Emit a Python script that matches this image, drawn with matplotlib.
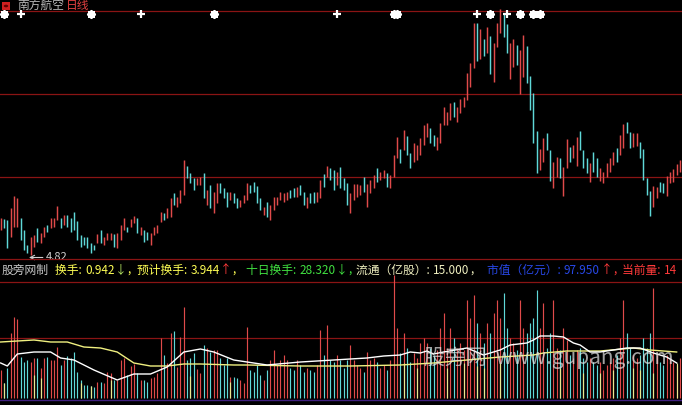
import matplotlib
matplotlib.use("Agg")
import matplotlib.pyplot as plt
import numpy as np
from matplotlib.patches import Rectangle, Circle

plt.rcParams['font.family'] = ['Noto Sans CJK SC', 'DejaVu Sans']

# ---------------- data ----------------
high = [5.56,5.54,5.52,5.76,6.00,5.96,5.56,5.32,5.02,5.18,5.22,5.36,5.26,5.38,5.42,5.56,5.56,5.80,5.56,5.62,
        5.62,5.56,5.68,5.50,5.22,5.18,5.18,5.06,5.02,5.24,5.32,5.18,5.26,5.26,5.24,5.26,5.42,5.56,5.38,5.54,
        5.60,5.56,5.38,5.32,5.28,5.26,5.38,5.42,5.68,5.66,5.76,5.96,6.06,5.98,6.12,6.72,6.60,6.46,6.36,6.36,
        6.38,6.46,6.12,6.22,6.08,6.26,6.26,6.16,6.08,6.08,6.06,5.96,5.92,6.02,6.26,6.22,6.28,6.20,5.96,5.78,
        5.88,5.82,5.98,5.98,6.08,6.06,6.08,6.12,6.16,6.18,6.22,6.08,5.98,6.06,6.08,6.08,6.32,6.44,6.60,6.56,
        6.52,6.48,6.58,6.36,6.26,6.06,6.24,6.24,6.22,6.38,6.24,6.32,6.42,6.56,6.48,6.52,6.46,6.42,6.82,7.18,
        6.94,7.32,7.20,6.86,7.06,7.02,7.16,7.42,7.46,7.36,7.22,7.18,7.46,7.78,7.68,7.86,7.88,7.78,7.94,7.98,
        8.46,8.66,9.46,9.46,9.34,9.14,9.38,9.20,9.06,9.46,9.74,9.64,9.44,9.06,9.14,9.02,8.92,9.22,9.00,8.40,
        8.06,7.30,6.94,7.16,7.26,6.92,6.68,6.78,6.76,6.58,7.14,6.98,7.02,7.18,7.30,6.92,6.76,6.66,6.88,6.76,
        6.56,6.48,6.66,6.76,6.88,6.96,7.22,7.44,7.48,7.28,7.26,7.26,7.08,6.94,6.36,6.10,6.20,6.18,6.28,6.26,
        6.40,6.48,6.54,6.64,6.72]
low = [5.32,5.36,4.96,5.18,5.38,5.38,5.12,4.92,4.86,4.82,4.98,5.08,5.06,5.18,5.28,5.36,5.38,5.52,5.36,5.42,
       5.38,5.28,5.32,5.12,4.98,5.02,4.96,4.86,4.92,5.06,5.06,5.02,5.12,5.12,4.98,4.96,5.12,5.32,5.28,5.38,
       5.46,5.26,5.22,5.08,5.12,5.02,5.22,5.26,5.48,5.52,5.56,5.58,5.82,5.78,5.86,6.02,6.36,6.26,6.12,6.22,
       6.22,5.96,5.82,5.76,5.66,5.86,6.06,5.96,5.78,5.92,5.86,5.76,5.78,5.86,5.92,6.06,6.08,5.86,5.72,5.62,
       5.58,5.52,5.72,5.82,5.92,5.88,5.92,5.96,5.98,5.98,6.02,5.82,5.76,5.86,5.86,5.88,5.96,6.18,6.38,6.32,
       6.12,6.22,6.16,6.12,5.82,5.66,5.92,5.98,6.02,6.08,5.78,6.06,6.16,6.28,6.32,6.36,6.18,6.16,6.38,6.76,
       6.66,6.92,6.82,6.56,6.68,6.72,6.82,7.02,7.18,7.06,7.00,6.92,7.06,7.42,7.42,7.52,7.58,7.48,7.66,7.78,
       7.92,8.18,8.56,8.70,8.74,8.80,8.86,8.44,8.28,8.98,9.26,9.18,8.86,8.34,8.58,8.62,8.04,8.38,8.26,7.72,
       7.06,6.46,6.52,6.68,6.92,6.30,6.16,6.38,6.36,6.00,6.56,6.68,6.76,6.60,6.92,6.56,6.46,6.28,6.48,6.38,
       6.30,6.26,6.38,6.48,6.62,6.68,6.82,6.96,7.26,6.96,6.98,7.00,6.76,6.32,6.02,5.60,5.78,5.96,6.08,6.06,
       6.00,6.26,6.28,6.42,6.48]
# 1 = up day (red), 0 = down day (cyan)
updown = [1,0,0,1,1,1,0,0,0,1,1,0,1,1,0,1,1,1,0,1,
          0,0,0,0,0,0,0,0,0,1,0,1,1,1,0,1,1,1,0,1,
          1,0,1,0,0,1,1,1,1,0,1,1,0,1,1,1,0,0,0,1,
          1,0,1,0,1,1,0,0,0,1,0,0,1,1,1,0,0,0,0,1,
          0,1,1,1,1,1,1,0,0,1,0,0,1,0,0,1,1,0,1,0,
          0,1,0,0,0,1,1,1,1,0,1,1,1,0,1,1,0,1,1,1,
          0,1,0,0,1,1,1,1,1,0,0,1,1,1,1,1,0,1,1,1,
          1,1,1,0,1,0,1,0,1,1,1,0,0,1,1,0,1,1,0,0,
          0,0,1,1,0,0,1,1,0,1,1,0,1,1,0,0,0,1,0,0,
          1,1,1,1,1,0,1,1,0,0,1,1,0,0,0,0,1,1,0,0,
          1,1,1,1,1]
volume = [2.8,1.5,3.0,6.5,8.1,7.9,4.1,3.6,3.8,3.6,4.0,4.0,3.0,4.0,4.1,3.8,3.8,5.1,3.3,3.8,
          4.2,4.0,4.6,2.6,1.8,1.3,1.3,1.2,1.1,1.6,1.6,1.5,2.6,2.5,1.8,1.8,3.8,4.0,2.3,3.2,
          3.4,2.5,1.8,1.8,1.6,2.0,2.1,2.5,6.0,4.3,3.5,6.5,6.7,3.1,6.1,9.1,3.8,4.0,4.5,2.9,
          2.5,5.3,5.0,4.6,4.8,4.8,4.0,3.3,4.0,2.1,2.1,2.0,1.8,1.5,7.1,2.8,2.6,3.3,2.3,1.8,
          2.8,3.8,4.8,3.3,3.8,4.3,3.8,3.0,2.8,3.8,3.3,2.6,3.0,2.8,2.6,3.3,6.8,4.3,7.3,3.8,
          3.6,4.3,3.8,3.0,3.8,5.3,3.8,3.3,3.0,2.6,4.6,3.8,4.0,3.6,3.0,3.3,2.8,3.8,12.3,7.0,
          4.5,6.5,5.0,3.6,4.5,4.0,5.5,6.0,5.5,5.0,4.3,4.8,7.0,8.5,5.0,7.0,6.0,5.0,5.5,4.8,
          9.8,8.0,10.3,7.5,6.5,5.5,7.5,6.5,8.5,9.8,8.0,10.5,7.0,6.0,5.5,4.8,9.8,7.0,6.5,7.5,
          8.0,10.8,7.0,9.5,5.0,6.5,9.8,5.0,4.8,7.0,5.8,4.3,4.0,4.8,5.0,4.0,3.6,4.0,3.6,3.3,
          3.6,2.8,3.3,3.6,4.0,4.3,6.0,9.8,6.5,5.0,4.3,4.0,4.3,6.0,5.0,6.5,11.0,4.3,3.6,3.3,
          4.3,4.0,3.6,3.3,4.0]
# short pale-yellow bars drawn over the volume bars
yellow_idx = [1, 10, 12, 24, 27, 33, 57, 69, 121, 125, 134, 139, 143, 145, 150, 168, 175, 180, 184, 190, 192, 196, 203]
yellow_vol = [1.5, 2.3, 2.0, 1.5, 1.2, 1.8, 2.2, 1.6, 3.5, 3.0, 3.0, 3.5, 3.2, 3.0, 3.5, 3.0, 2.5, 2.5, 2.8, 3.0,
              2.8, 2.5, 3.5]

ma_white_idx = [0,2,5,10,15,18,22,28,35,40,45,50,55,60,64,70,74,80,90,100,110,115,120,123,126,128,
                130,133,140,145,150,153,158,160,162,166,169,172,174,177,180,184,188,192,196,200,203]
ma_white = [3.5,3.2,4.4,4.6,4.6,4.0,3.8,2.8,1.8,2.4,2.4,3.1,4.6,4.9,4.6,3.8,3.6,3.3,3.6,3.8,4.0,4.2,
            4.3,4.6,4.5,4.7,4.4,4.6,5.0,4.3,4.8,5.3,5.5,5.8,6.2,6.2,6.1,5.5,5.3,4.6,4.6,4.8,5.0,5.0,
            4.5,4.1,3.5]
ma_yellow_idx = [0,10,15,20,25,30,35,40,45,50,55,60,70,74,90,105,120,130,140,150,160,163,170,180,190,195,203]
ma_yellow = [5.6,5.8,5.6,5.6,5.1,5.0,4.6,3.5,3.2,3.2,3.4,3.4,3.3,3.3,3.2,3.2,3.3,3.5,3.8,4.1,4.3,4.5,
             4.7,4.7,5.0,4.8,4.6]

plus_signals = [6, 42, 101, 143, 152]
star_signals = [1, 27, 64, 118, 119, 147, 156, 160, 162]

stock_name = "南方航空"
period = "日线"
Y, G, P, B, R = "#ffff55", "#40e040", "#f0f0c0", "#2848e8", "#ff3a3a"
header_groups = [
    (2,   [("股旁网制", "#c8c8c8")]),
    (55,  [("换手: ", Y), ("0.942", Y), ("↓", "#b0e060"), (",", Y)]),
    (137, [("预计换手: ", Y), ("3.944", Y), ("↑", R), (",", Y)]),
    (246, [("十日换手: ", G), ("28.320", G), ("↓", G), (",", G)]),
    (356, [("流通（亿股）: ", P), ("15.000", P), (",", P)]),
    (487, [("市值（亿元）: ", B), ("97.950", B), ("↑", R), (",", R)]),
    (622, [("当前量: ", R), ("14", R)]),
]

# ---------------- figure ----------------
W, H = 682, 405
fig = plt.figure(figsize=(W / 100, H / 100), dpi=100, facecolor="black")

def box(top, bottom):
    return [0, 1 - bottom / H, 1, (bottom - top) / H]

n = len(high)
x = np.arange(n)
red, cyan = "#e04a4a", "#5fd8d8"
grid = "#8a1414"

# price panel
axp = fig.add_axes(box(0, 258))
axp.set_facecolor("black")
axp.set_xlim(-0.2, 204.6)
axp.set_ylim(4.76, 9.92)
for lvl in (9.70, 8.04, 6.38):
    axp.axhline(lvl, color=grid, lw=0.9)
cols = [red if u else cyan for u in updown]
axp.vlines(x, low, high, colors=cols, linewidth=1.05)
axp.scatter(plus_signals, [9.65] * len(plus_signals), marker="+", s=32, color="white", linewidths=1.6, zorder=5)
axp.scatter(star_signals, [9.65] * len(star_signals), marker=(8, 2, 0), s=26, color="white", linewidths=1.5, zorder=5)
imin = int(np.argmin(low))
axp.annotate(f"{low[imin]:.2f}", xy=(imin - 0.5, low[imin] - 0.05), xytext=(imin + 4.5, low[imin] - 0.05),
             color="#d0d0d0", fontsize=8, va="center", ha="left",
             arrowprops=dict(arrowstyle="->", color="#d0d0d0", lw=0.8, shrinkA=0, shrinkB=0))
axp.axis("off")

# volume panel
axv = fig.add_axes(box(258, 405))
axv.set_facecolor("black")
axv.set_xlim(-0.2, 204.6)
axv.set_ylim(-0.7, 14.0)
axv.axhline(13.95, color=grid, lw=0.9)
axv.axhline(11.6, color=grid, lw=0.9)
axv.axhline(6.0, color=grid, lw=0.9)
axv.vlines(x, 0, volume, colors=cols, linewidth=0.85)
axv.vlines(yellow_idx, 0, yellow_vol, colors="#e8e890", linewidth=0.85, zorder=3)
axv.plot(ma_yellow_idx, ma_yellow, color="#f0f080", lw=1.0, zorder=4)
axv.plot(ma_white_idx, ma_white, color="white", lw=1.0, zorder=4)
axv.axhline(-0.15, color="#402080", lw=1.0)
axv.text(164.5, 4.0, "股旁网  www.gupang.com", color="#e0e0e0", alpha=0.72, fontsize=15,
         ha="center", va="center", zorder=10)
axv.axis("off")

# title row
fig.patches.append(Rectangle((2 / W, 1 - 10 / H), 8 / W, 8 / H, transform=fig.transFigure,
                             facecolor="#d02020", edgecolor="none"))
fig.patches.append(Circle((6 / W, 1 - 6 / H), 2.2 / W, transform=fig.transFigure, facecolor="#600000"))
fig.text(17 / W, 1 - 5 / H, stock_name, color="#b8b8b8", fontsize=8.5, va="center", ha="left")
fig.text(66 / W, 1 - 5 / H, period, color="#e04040", fontsize=8.5, va="center", ha="left")

# header row of the lower panel (pieces chained left to right)
renderer = fig.canvas.get_renderer()
for gx, parts in header_groups:
    cur = gx
    for s, c in parts:
        t = fig.text(cur / W, 1 - 270 / H, s, color=c, fontsize=8.5, va="center", ha="left")
        bb = t.get_window_extent(renderer=renderer)
        cur = bb.x1 + 0.6

fig.savefig("out.png", dpi=100, facecolor="black")
